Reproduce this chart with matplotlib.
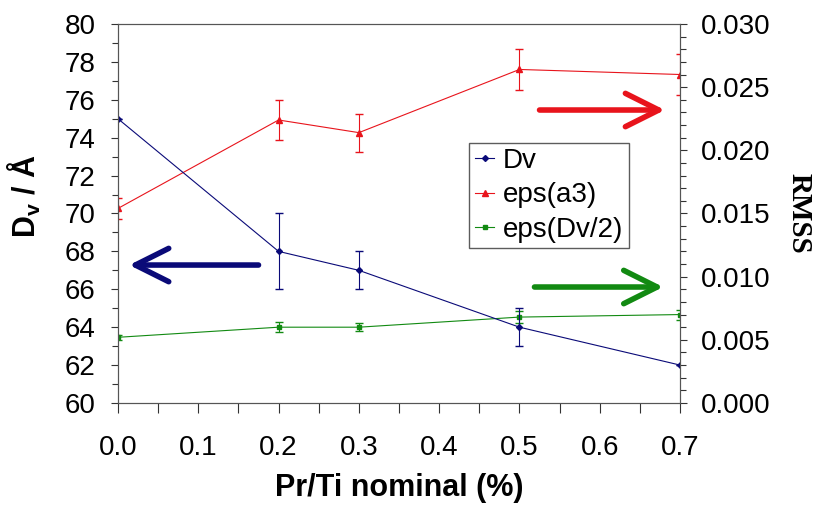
import numpy as np
import matplotlib.pyplot as plt
from matplotlib.lines import Line2D
from matplotlib.ticker import MultipleLocator, FormatStrFormatter

plt.rcParams['font.family'] = 'Liberation Sans'
plt.rcParams['mathtext.fontset'] = 'custom'
plt.rcParams['mathtext.rm'] = 'Liberation Sans:bold'
plt.rcParams['mathtext.it'] = 'Liberation Sans:bold'

# data
x = [0.0, 0.2, 0.3, 0.5, 0.7]
dv = [75.0, 68.0, 67.0, 64.0, 62.0]
dv_err = [0.0, 2.0, 1.0, 1.0, 0.0]
eps_a3 = [0.0154, 0.0224, 0.0214, 0.0264, 0.0260]
eps_a3_err = [0.0008, 0.0016, 0.0015, 0.0016, 0.0016]
eps_dv2 = [0.0052, 0.0060, 0.0060, 0.0068, 0.0070]
eps_dv2_err = [0.0002, 0.0004, 0.0003, 0.0005, 0.0004]
names = ['Dv', 'eps(a3)', 'eps(Dv/2)']

navy = '#0a0a78'
red = '#e8141c'
green = '#128a12'

fig = plt.figure(figsize=(8.39, 5.08), dpi=100)
ax = fig.add_axes([0.1406, 0.2067, 0.67, 0.7461])
ax2 = ax.twinx()

ax.errorbar(x, dv, yerr=dv_err, color=navy, lw=0.8, marker='D', ms=3,
            capsize=3, elinewidth=0.8)
ax2.errorbar(x, eps_a3, yerr=eps_a3_err, color=red, lw=0.8, marker='^', ms=4.5,
             capsize=3, elinewidth=0.8)
ax2.errorbar(x, eps_dv2, yerr=eps_dv2_err, color=green, lw=0.8, marker='s', ms=3.5,
             capsize=3, elinewidth=0.8)

ax.set_xlim(0, 0.7)
ax.set_ylim(60, 80)
ax2.set_ylim(0, 0.030)

ax.xaxis.set_major_locator(MultipleLocator(0.1))
ax.xaxis.set_minor_locator(MultipleLocator(0.05))
ax.xaxis.set_major_formatter(FormatStrFormatter('%.1f'))
ax.yaxis.set_major_locator(MultipleLocator(2))
ax.yaxis.set_minor_locator(MultipleLocator(1))
ax2.yaxis.set_major_locator(MultipleLocator(0.005))
ax2.yaxis.set_minor_locator(MultipleLocator(0.001))
ax2.yaxis.set_major_formatter(FormatStrFormatter('%.3f'))

for a in (ax, ax2):
    a.tick_params(which='major', direction='out', length=5, width=0.8,
                  labelsize=20, color='#333333')
    a.tick_params(which='minor', direction='out', length=4, width=0.8, color='#333333')
    for s in a.spines.values():
        s.set_color('#555555')
        s.set_linewidth(0.8)
ax.tick_params(axis='x', which='both', length=7)
ax.tick_params(axis='x', pad=16)
ax.tick_params(axis='y', pad=11)
ax2.tick_params(axis='y', pad=10)

ax.set_xlabel('Pr/Ti nominal (%)', fontsize=22, fontweight='bold', labelpad=9)
ax.set_ylabel(r'D$_{\mathrm{v}}$ / Å', fontsize=22, fontweight='bold')
ax.yaxis.set_label_coords(-0.134, 0.545)
ax2.set_ylabel('RMSS', fontsize=21, fontweight='bold', family='Liberation Serif',
               rotation=270, labelpad=30)

handles = [Line2D([], [], color=navy, lw=0.8, marker='D', ms=3),
           Line2D([], [], color=red, lw=0.8, marker='^', ms=4.5),
           Line2D([], [], color=green, lw=0.8, marker='s', ms=3.5)]
leg = ax.legend(handles, names, loc='upper left', bbox_to_anchor=(0.625, 0.687),
                fontsize=20, frameon=True, fancybox=False, handlelength=0.7,
                handletextpad=0.3, borderpad=0.2, labelspacing=0.3, borderaxespad=0)
leg.get_frame().set_edgecolor('#333333')
leg.get_frame().set_linewidth(1.0)
ax.set_zorder(ax2.get_zorder() + 1)
ax.patch.set_visible(False)

arrow = dict(arrowstyle='->,head_length=0.6,head_width=0.3', lw=4, mutation_scale=40)
ax.annotate('', xy=(0.978, 0.773), xytext=(0.745, 0.773), xycoords='axes fraction',
            arrowprops=dict(arrow, color=red))
ax.annotate('', xy=(0.015, 0.364), xytext=(0.255, 0.364), xycoords='axes fraction',
            arrowprops=dict(arrow, color=navy))
ax.annotate('', xy=(0.975, 0.306), xytext=(0.736, 0.306), xycoords='axes fraction',
            arrowprops=dict(arrow, color=green))

fig.savefig('out.png', dpi=100)
